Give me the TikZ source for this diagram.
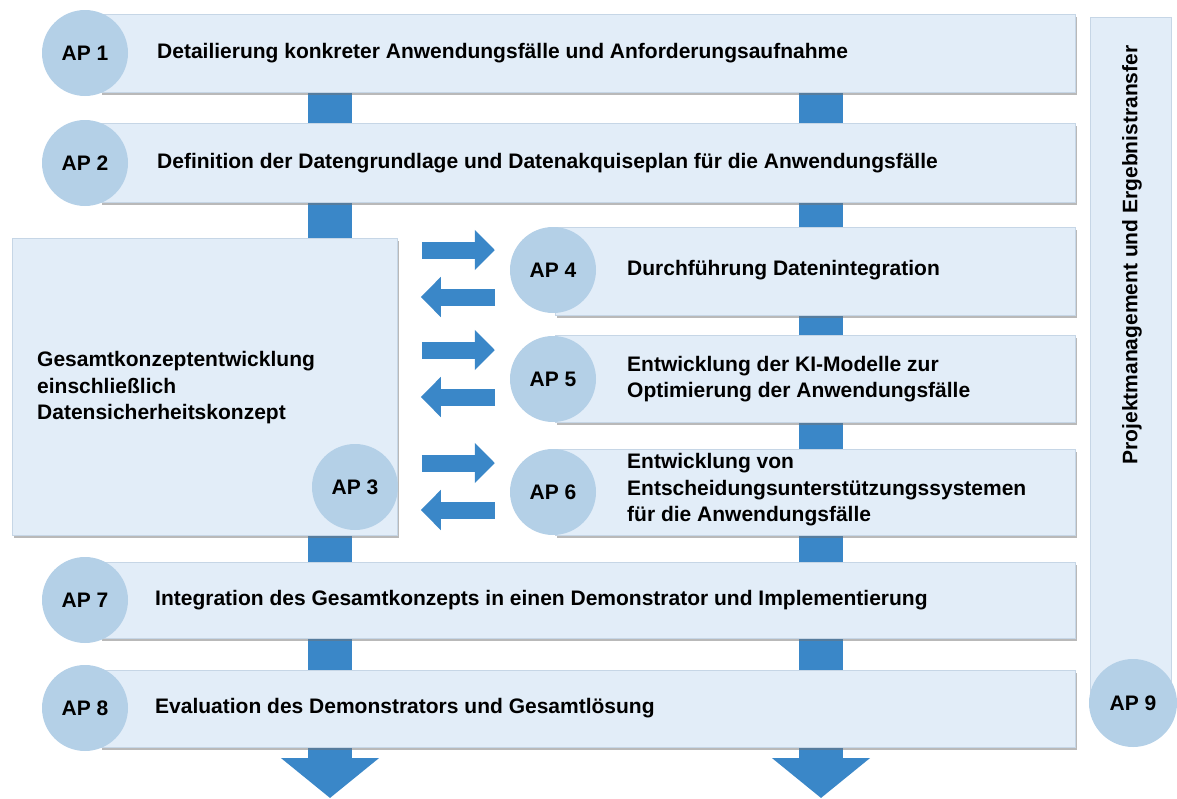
\documentclass[tikz,border=0pt]{standalone}
\usepackage{fontspec}
\setmainfont{Liberation Sans}
\usetikzlibrary{shadows,calc,arrows.meta}

\definecolor{barfill}{HTML}{E2EDF8}
\definecolor{barline}{HTML}{C6D6E6}
\definecolor{discfill}{HTML}{B4D0E7}
\definecolor{flow}{HTML}{3A87C8}

\pgfdeclarelayer{back}
\pgfsetlayers{back,main}

\begin{document}
\begin{tikzpicture}[x=1pt,y=-1pt,
  bar/.style={rectangle, anchor=north west, inner sep=0pt,
    fill=barfill, draw=barline, line width=0.8pt,
    drop shadow={shadow xshift=2pt, shadow yshift=-2.5pt,
      fill=black!55, opacity=0.5}},
  column/.style={rectangle, anchor=north west, inner sep=0pt,
    fill=barfill, draw=barline, line width=0.6pt},
  disc/.style={circle, fill=discfill, minimum size=86pt, inner sep=0pt,
    font=\bfseries\fontsize{21}{25}\selectfont},
  lbl/.style={anchor=west, align=left, inner sep=0pt,
    font=\bfseries\fontsize{21}{26.5}\selectfont},
  flowline/.style={flow, line width=44pt,
    -{Triangle[width=96pt, length=40pt]}},
  blockarrow/.style={flow, line width=17pt,
    -{Triangle[width=39pt, length=20pt]}}]

  % canvas
  \path[use as bounding box] (0,0) rectangle (1177,798);

  % work package bars
  \node[bar, minimum width=975pt, minimum height=78pt] (b1) at (100,14) {};
  \node[bar, minimum width=975pt, minimum height=79pt] (b2) at (100,123) {};
  \node[bar, minimum width=385pt, minimum height=297pt] (b3) at (12,238) {};
  \node[bar, minimum width=520pt, minimum height=88pt] (b4) at (555,227) {};
  \node[bar, minimum width=520pt, minimum height=87pt] (b5) at (555,335) {};
  \node[bar, minimum width=520pt, minimum height=86pt] (b6) at (555,449) {};
  \node[bar, minimum width=975pt, minimum height=76pt] (b7) at (100,562) {};
  \node[bar, minimum width=975pt, minimum height=77pt] (b8) at (100,670) {};
  \node[column, minimum width=81pt, minimum height=683pt] (b9) at (1090,17) {};

  % numbered discs
  \node[disc] (c1) at (85,53) {AP 1};
  \node[disc] (c2) at (85,163) {AP 2};
  \node[disc] (c3) at (355,487) {AP 3};
  \node[disc] (c4) at (553,270) {AP 4};
  \node[disc] (c5) at (553,379) {AP 5};
  \node[disc] (c6) at (553,492) {AP 6};
  \node[disc] (c7) at (85,600) {AP 7};
  \node[disc] (c8) at (85,708) {AP 8};
  \node[disc, minimum size=88pt] (c9) at (1133,703) {AP 9};

  % work package titles
  \node[lbl] (t1) at (157,53) {Detailierung konkreter Anwendungsfälle und Anforderungsaufnahme};
  \node[lbl] (t2) at (157,163) {Definition der Datengrundlage und Datenakquiseplan für die Anwendungsfälle};
  \node[lbl] (t3) at (37,388) {Gesamtkonzeptentwicklung\\einschließlich\\Datensicherheitskonzept};
  \node[lbl] (t4) at (627,270) {Durchführung Datenintegration};
  \node[lbl] (t5) at (627,379) {Entwicklung der KI-Modelle zur\\Optimierung der Anwendungsfälle};
  \node[lbl] (t6) at (627,490) {Entwicklung von\\Entscheidungsunterstützungssystemen\\für die Anwendungsfälle};
  \node[lbl] (t7) at (155,600) {Integration des Gesamtkonzepts in einen Demonstrator und Implementierung};
  \node[lbl] (t8) at (155,708) {Evaluation des Demonstrators und Gesamtlösung};
  \node[lbl, anchor=center, rotate=90] (t9) at (1132,255) {Projektmanagement und Ergebnistransfer};

  % main flow running behind the bars
  \coordinate (outL) at (330,798);
  \coordinate (outR) at (821,798);
  \begin{pgfonlayer}{back}
    \draw[flowline] (b1.south -| outL) -- (outL);
    \draw[flowline] (b1.south -| outR) -- (outR);
  \end{pgfonlayer}

  % exchange between AP 3 and AP 4--6
  \foreach \ya/\yb/\c in {250/297/c4, 350/397/c5, 463/510/c6}{
    \draw[blockarrow] ($(b3.east |- 0,\ya)+(24,0)$) -- ($(\c.west |- 0,\ya)+(-15,0)$);
    \draw[blockarrow] ($(\c.west |- 0,\yb)+(-15,0)$) -- ($(b3.east |- 0,\yb)+(23,0)$);
  }
\end{tikzpicture}
\end{document}
